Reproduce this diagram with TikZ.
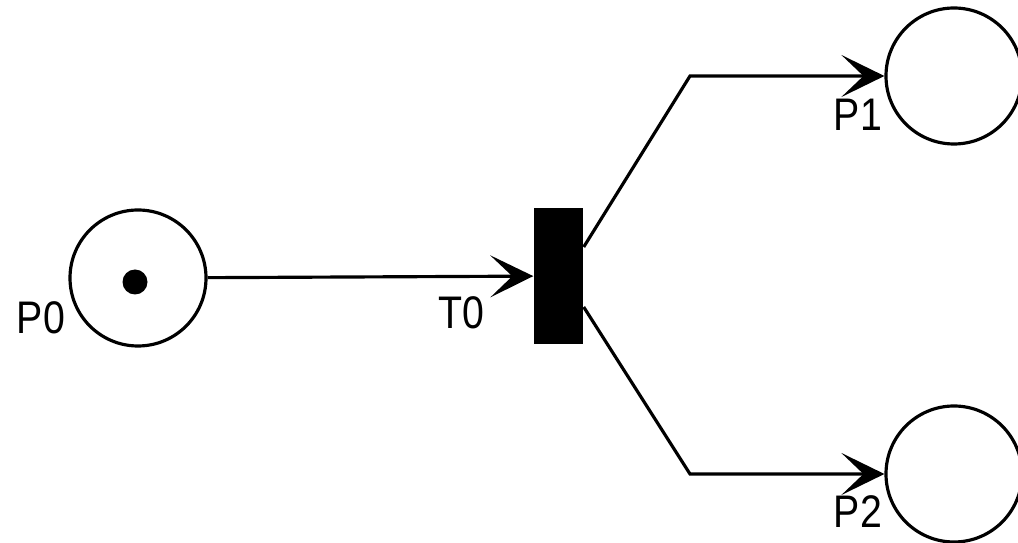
\documentclass[tikz,border=0pt]{standalone}
\usepackage{fontspec}
\setmainfont{Liberation Sans}
\usetikzlibrary{arrows.meta,positioning}

\begin{document}
\begin{tikzpicture}[x=1cm,y=1cm]

  % Definitions
  \tikzstyle{place} = [circle, draw=black, line width=0.9pt, minimum size=1.36cm, inner sep=0pt]
  \tikzstyle{transition} = [rectangle, fill=black, minimum width=0.49cm, minimum height=1.36cm, inner sep=0pt]
  \tikzstyle{marker} = [circle, fill=black, minimum size=0.25cm, inner sep=0pt]
  \tikzstyle{caption} = [font=\fontsize{13}{15}\selectfont, inner sep=0pt, transform shape, xscale=0.86]
  \tikzstyle{flow} = [line width=0.9pt, -{Stealth[length=4.3mm, width=4.2mm, inset=2.2mm]}]

  \useasboundingbox (0,0) rectangle (10.18,-5.43);

  \node (P0) [place] at (1.38,-2.78) {};
  \node (tok) [marker] at (1.35,-2.82) {};
  \node (T0) [transition] at (5.585,-2.76) {};
  \node (P1) [place] at (9.54,-0.76) {};
  \node (P2) [place] at (9.54,-4.74) {};

  \node (P0name) [caption] at (0.41,-3.18) {P0};
  \node (T0name) [caption] at (4.61,-3.13) {T0};
  \node (P1name) [caption] at (8.58,-1.15) {P1};
  \node (P2name) [caption] at (8.58,-5.12) {P2};

  \coordinate (up) at (6.90,-0.76);
  \coordinate (down) at (6.90,-4.74);

  \draw [flow] (P0) -- (T0);
  \draw [flow] ([yshift=0.29cm]T0.east) -- (up) -- (P1);
  \draw [flow] ([yshift=-0.31cm]T0.east) -- (down) -- (P2);

\end{tikzpicture}
\end{document}
